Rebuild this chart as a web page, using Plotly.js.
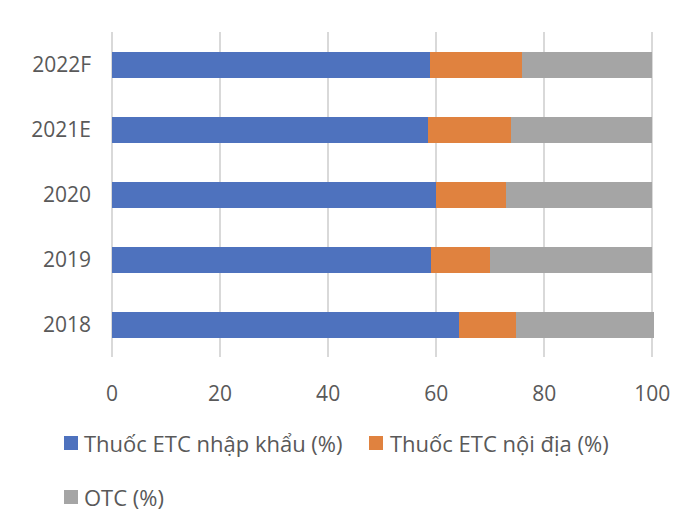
<!DOCTYPE html>
<html>
<head>
<meta charset="utf-8">
<script src="https://cdn.plot.ly/plotly-3.0.1.min.js"></script>
<style>
html,body{margin:0;padding:0;background:#fff;}
#chart{width:700px;height:529px;}
</style>
</head>
<body>
<div id="chart"></div>
<script>
// ---- data ----
const years = ["2018", "2019", "2020", "2021E", "2022F"];
const seriesNames = ["Thuốc ETC nhập khẩu (%)", "Thuốc ETC nội địa (%)", "OTC (%)"];
const etcImported = [64.3, 59.1, 60.0, 58.4, 58.9];
const etcDomestic = [10.4, 10.9, 13.0, 15.5, 16.9];
const otc = [25.7, 30.0, 27.0, 26.1, 24.2];
const xTickVals = [0, 20, 40, 60, 80, 100];

// ---- style ----
const colors = ["#4E72BE", "#E0823F", "#A5A5A5"];
const font = "Open Sans, Noto Sans, sans-serif";
const textColor = "#595959";
const W = 700, H = 529;
const plotL = 112, plotR = 655, plotT = 32, plotB = 357;

const series = [etcImported, etcDomestic, otc];
const traces = series.map((vals, i) => ({
  type: "bar",
  orientation: "h",
  y: years,
  x: vals,
  name: seriesNames[i],
  marker: {color: colors[i], line: {width: 0}},
  hoverinfo: "x+y+name"
}));

function px(x) { return (x - plotL) / (plotR - plotL); }
function py(y) { return (plotB - y) / (plotB - plotT); }

// custom legend layout (pixel positions)
const legendItems = [
  {sq: 64, txt: 83, cy: 443},
  {sq: 369, txt: 389, cy: 443},
  {sq: 64, txt: 83, cy: 497}
];
const sqSize = 14;
const shapes = legendItems.map((it, i) => ({
  type: "rect", xref: "paper", yref: "paper",
  x0: px(it.sq), x1: px(it.sq + sqSize),
  y0: py(it.cy + sqSize / 2), y1: py(it.cy - sqSize / 2),
  fillcolor: colors[i], line: {width: 0}
}));
const annotations = legendItems.map((it, i) => ({
  xref: "paper", yref: "paper",
  x: px(it.txt), y: py(it.cy),
  xanchor: "left", yanchor: "middle",
  text: seriesNames[i], showarrow: false,
  borderpad: 0,
  font: {family: font, size: 22, color: textColor}
}));

const layout = {
  width: W, height: H,
  margin: {l: plotL, r: W - plotR, t: plotT, b: H - plotB, pad: 0},
  paper_bgcolor: "#ffffff",
  plot_bgcolor: "#ffffff",
  barmode: "stack",
  bargap: 0.6,
  showlegend: false,
  font: {family: font, size: 21, color: textColor},
  xaxis: {
    range: [0, 100.5],
    tickvals: xTickVals,
    ticktext: xTickVals.map(String),
    showgrid: true,
    gridcolor: "#D9D9D9",
    gridwidth: 2,
    zeroline: true,
    zerolinecolor: "#D9D9D9",
    zerolinewidth: 2,
    showline: false,
    ticks: "",
    ticklabelstandoff: 22,
    tickfont: {family: font, size: 21, color: textColor},
    fixedrange: true
  },
  yaxis: {
    type: "category",
    categoryorder: "array",
    categoryarray: years,
    showgrid: false,
    zeroline: false,
    showline: false,
    ticks: "",
    ticklabelstandoff: 20,
    tickfont: {family: font, size: 21, color: textColor},
    fixedrange: true
  },
  shapes: shapes,
  annotations: annotations
};

Plotly.newPlot("chart", traces, layout, {displayModeBar: false, staticPlot: true});
</script>
</body>
</html>
